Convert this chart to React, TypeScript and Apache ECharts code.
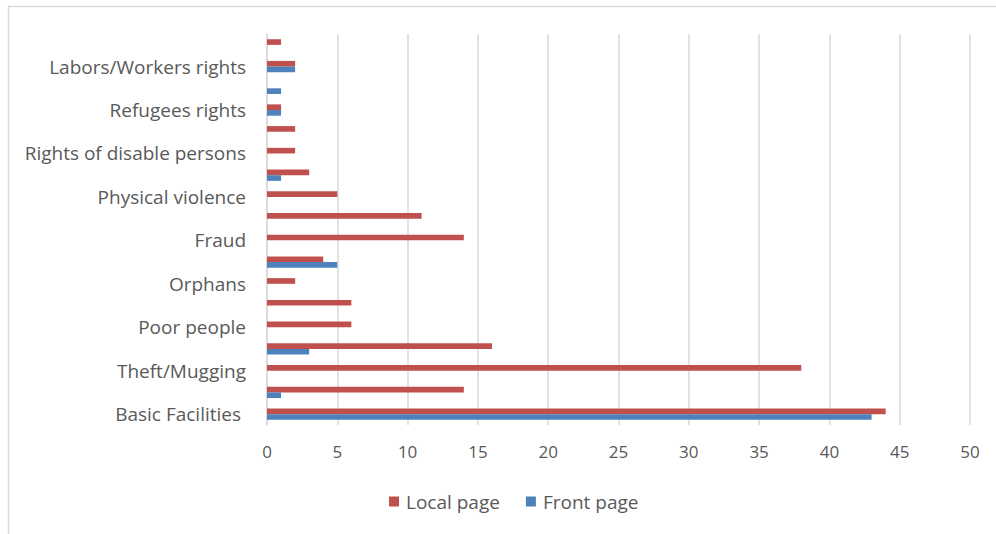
import React, { useEffect, useRef } from "react";
import * as echarts from "echarts";

const categories = [
  "Basic Facilities ",
  "Unlabeled A",
  "Theft/Mugging",
  "Unlabeled B",
  "Poor people",
  "Unlabeled C",
  "Orphans",
  "Unlabeled D",
  "Fraud",
  "Unlabeled E",
  "Physical violence",
  "Unlabeled F",
  "Rights of disable persons",
  "Unlabeled G",
  "Refugees rights",
  "Unlabeled H",
  "Labors/Workers rights",
  "Unlabeled I",
];
const localPage = [44, 14, 38, 16, 6, 6, 2, 4, 14, 11, 5, 3, 2, 2, 1, 0, 2, 1];
const frontPage = [43, 1, 0, 3, 0, 0, 0, 5, 0, 0, 0, 1, 0, 0, 1, 1, 2, 0];
const xTicks = [0, 50, 5];

const FONT = "'Open Sans', Lato, sans-serif";

export default function App() {
  const ref = useRef<HTMLDivElement>(null);
  useEffect(() => {
    document.body.style.margin = "0";
    const chart = echarts.init(ref.current!, null, { renderer: "svg" });
    chart.setOption({
      animation: false,
      backgroundColor: "#ffffff",
      graphic: [
        {
          type: "rect",
          shape: { x: 8.5, y: 6.5, width: 1000, height: 600 },
          style: { fill: "none", stroke: "#d9d9d9", lineWidth: 1.5 },
          silent: true,
        },
      ],
      grid: { left: 267, right: 26, top: 34, bottom: 109, containLabel: false },
      legend: {
        data: ["Local page", "Front page"],
        bottom: 18,
        left: 384,
        icon: "rect",
        itemWidth: 10,
        itemHeight: 10,
        itemGap: 26,
        itemStyle: { borderWidth: 0 },
        textStyle: { fontFamily: FONT, fontSize: 19, color: "#595959", padding: [0, 0, 0, 2] },
      },
      xAxis: {
        type: "value",
        min: xTicks[0],
        max: xTicks[1],
        interval: xTicks[2],
        axisLine: { show: false },
        axisTick: { show: false },
        splitLine: { show: true, lineStyle: { color: "#d9d9d9", width: 1.5 } },
        axisLabel: { fontFamily: FONT, fontSize: 17, color: "#595959", margin: 18 },
      },
      yAxis: {
        type: "category",
        data: categories,
        axisLine: { show: true, lineStyle: { color: "#d9d9d9", width: 1.5 } },
        axisTick: { show: false },
        axisLabel: {
          interval: 1,
          fontFamily: FONT,
          fontSize: 19,
          color: "#595959",
          margin: 21,
        },
      },
      series: [
        {
          name: "Local page",
          type: "bar",
          data: localPage,
          itemStyle: { color: "#C0504D" },
          barGap: "0%",
          barCategoryGap: "48%",
        },
        {
          name: "Front page",
          type: "bar",
          data: frontPage,
          itemStyle: { color: "#4F81BD" },
          barGap: "0%",
          barCategoryGap: "48%",
        },
      ],
    });
    return () => chart.dispose();
  }, []);
  return <div ref={ref} style={{ width: 996, height: 534 }} />;
}
